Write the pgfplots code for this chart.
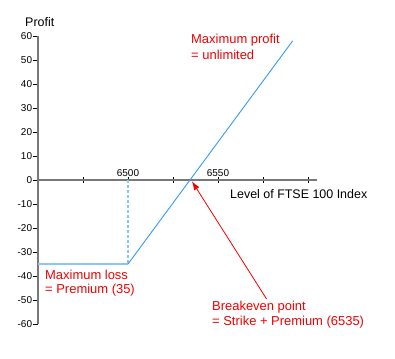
\documentclass[border=0pt]{standalone}
\usepackage{pgfplots}
\pgfplotsset{compat=1.18}
\usetikzlibrary{arrows.meta}
\usepackage{fontspec}
\setmainfont{Liberation Sans}
\definecolor{lineblue}{RGB}{51,153,255}
\definecolor{lightblue}{RGB}{140,195,255}
\definecolor{axgray}{RGB}{120,120,120}
\definecolor{annred}{RGB}{240,0,0}
\begin{document}
\begin{tikzpicture}[x=1bp,y=1bp]
\path[use as bounding box] (0,0) rectangle (395,-359);
\begin{axis}[
  at={(38bp,-324bp)}, anchor=south west,
  scale only axis, width=279bp, height=288bp,
  xmin=6450, xmax=6605, ymin=-60, ymax=60,
  axis x line*=middle, axis y line*=left,
  axis line style={axgray, line width=1.6bp},
  xtick={6475,6500,6525,6550,6575,6600},
  xticklabels={},
  ytick={-60,-50,...,60},
  yticklabel style={font=\fontsize{10}{12}\selectfont, inner sep=0pt, anchor=east, xshift=-3bp},
  /pgf/number format/assume math mode=true,
  tick align=center,
  major tick length=5.5bp,
  tick style={black, line width=0.8bp},
  ytick style={xshift=-2.75bp},
  clip=false,
]
\addplot[lightblue, line width=2bp] coordinates {(6450,-35) (6500,-35)};
\addplot[lightblue, line width=1.6bp, dash pattern=on 3bp off 2bp] coordinates {(6500,0) (6500,-35)};
\addplot[lineblue, line width=0.9bp] coordinates {(6500,-35) (6591.5,58)};
\node[anchor=base, font=\fontsize{10}{12}\selectfont, inner sep=0pt] at (axis cs:6500,0) [yshift=3.5bp] {6500};
\node[anchor=base, font=\fontsize{10}{12}\selectfont, inner sep=0pt] at (axis cs:6550,0) [yshift=3.5bp] {6550};
\draw[annred, line width=0.8bp, -{Latex[length=9bp,width=6bp]}] (axis cs:6577,-49.6) -- (axis cs:6535.5,-0.5);
\end{axis}
\begin{scope}[font=\fontsize{12.5}{15}\selectfont]
\node[anchor=west, inner sep=0pt] at (25,-22) {Profit};
\node[anchor=west, inner sep=0pt] at (230,-194) {Level of FTSE 100 Index};
\end{scope}
\begin{scope}[font=\fontsize{13}{15}\selectfont]
\node[anchor=west, inner sep=0pt, annred] at (191,-40) {Maximum profit};
\node[anchor=west, inner sep=0pt, annred] at (191,-55) {= unlimited};
\node[anchor=west, inner sep=0pt, annred] at (45,-275) {Maximum loss};
\node[anchor=west, inner sep=0pt, annred] at (45,-290) {= Premium (35)};
\node[anchor=west, inner sep=0pt, annred] at (212,-307) {Breakeven point};
\node[anchor=west, inner sep=0pt, annred] at (212,-322.5) {= Strike + Premium (6535)};
\end{scope}
\end{tikzpicture}
\end{document}
